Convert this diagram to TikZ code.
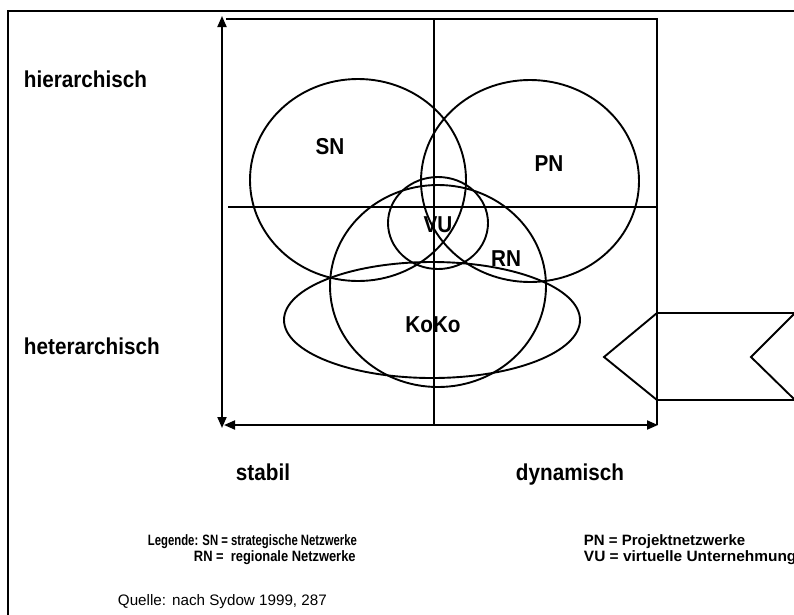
\documentclass[tikz,border=0pt]{standalone}
\usepackage{fontspec}
\usepackage{graphicx}
\setmainfont{Liberation Sans}[FakeStretch=0.9]
\newfontfamily\plainfont{Liberation Sans}
\usetikzlibrary{shapes.geometric,arrows.meta}

% legend entry squeezed horizontally to a given factor
\newcommand{\legentry}[2]{\scalebox{#1}[1]{#2}}

\begin{document}
\begin{tikzpicture}[x=1pt,y=-1pt,line width=1.9pt,
  zone/.style={draw,ellipse,inner sep=0pt,outer sep=0pt},
  axis/.style={{Triangle[length=11pt,width=9pt]}-{Triangle[length=11pt,width=9pt]}},
  lbl/.style={font=\fontsize{23}{27}\selectfont\bfseries,inner sep=0pt,anchor=base},
  leg/.style={font=\plainfont\fontsize{15}{18}\selectfont\bfseries,inner sep=0pt,anchor=base west},
]
\clip (0,0) rectangle (794,614);

% outer frame
\draw (8,11) rectangle (830,650);

% axis corners and ends
\coordinate (ytop) at (222,16);
\coordinate (ybot) at (222,428);
\coordinate (xleft) at (224,425);
\coordinate (xright) at (658,425);
\coordinate (tl) at (226,19);
\coordinate (tr) at (657,19);
\coordinate (br) at (657,425);
\coordinate (mtop) at (434,19);
\coordinate (mbot) at (434,425);
\coordinate (hl) at (228,207);
\coordinate (hr) at (657,207);

% quadrant box
\draw (tl) -- (tr) -- (br);
\draw (mtop) -- (mbot);
\draw (hl) -- (hr);

% axes
\draw[axis] (ybot) -- (ytop);
\draw[axis] (xleft) -- (xright);

% network types
\node[zone,minimum width=216pt,minimum height=202pt] (snz) at (358,180) {};
\node[zone,minimum width=218pt,minimum height=202pt] (pnz) at (530,181) {};
\node[zone,minimum width=100pt,minimum height=92pt] (vuz) at (438,223) {};
\node[zone,minimum width=216pt,minimum height=202pt] (rnz) at (438,286) {};
\node[zone,minimum width=296pt,minimum height=116pt] (kokoz) at (432,320) {};

% chevron arrow on the right
\draw[line join=miter] (604,357) -- (657,313) -- (795,313) -- (751,357) -- (795,400) -- (657,400) -- cycle;

% labels inside
\node[lbl] (sn) at (330,154) {SN};
\node[lbl] (pn) at (549,171) {PN};
\node[lbl] (vu) at (438,232) {VU};
\node[lbl] (rn) at (506,266) {RN};
\node[lbl] (koko) at (433,332) {KoKo};

% axis labels
\node[lbl,anchor=base west] (hier) at (23,87) {hierarchisch};
\node[lbl,anchor=base west] (hetero) at (23,354) {heterarchisch};
\node[lbl,anchor=base west] (stabil) at (235,480) {stabil};
\node[lbl,anchor=base west] (dyn) at (515,480) {dynamisch};

% legend
\node[leg] (leg1) at (147,545) {\legentry{0.755}{Legende: SN = strategische Netzwerke}};
\node[leg] (leg2) at (193,561) {\legentry{0.86}{RN =\ \ regionale Netzwerke}};
\node[leg] (leg3) at (583,545) {\legentry{1.0}{PN = Projektnetzwerke}};
\node[leg] (leg4) at (583,561) {\legentry{1.03}{VU = virtuelle Unternehmung}};

% source
\node[font=\plainfont\fontsize{15.2}{18}\selectfont,inner sep=0pt,anchor=base west] (src) at (117,605) {Quelle:\hspace{0.4em}nach Sydow 1999, 287};
\end{tikzpicture}
\end{document}
